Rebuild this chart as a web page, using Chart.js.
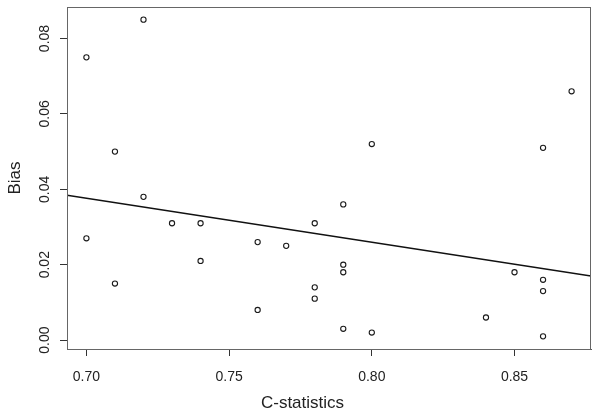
<!DOCTYPE html>
<html lang="en">
<head>
    <meta charset="UTF-8">
    <title>Bias vs C-statistics</title>
    <script src="https://cdn.jsdelivr.net/npm/chart.js"></script>
    <style>
        body {
            margin: 0;
            background: #fff;
        }

        #wrap {
            width: 601px;
            height: 416px;
        }
    </style>
</head>
<body>
<div id="wrap">
    <canvas id="biasChart" width="601" height="416"></canvas>
</div>

<script>
    // values
    const cStat = [0.70, 0.70, 0.71, 0.71, 0.72, 0.72, 0.73, 0.74, 0.74, 0.76, 0.76, 0.77, 0.78, 0.78,
        0.78, 0.79, 0.79, 0.79, 0.79, 0.80, 0.80, 0.84, 0.85, 0.86, 0.86, 0.86, 0.86, 0.87];
    const bias = [0.075, 0.027, 0.050, 0.015, 0.085, 0.038, 0.031, 0.031, 0.021, 0.026, 0.008, 0.025, 0.031, 0.014,
        0.011, 0.036, 0.020, 0.018, 0.003, 0.052, 0.002, 0.006, 0.018, 0.051, 0.016, 0.013, 0.001, 0.066];

    // fitted line, ends at the plot edges
    const fitX = [0.6932, 0.8768];
    const fitY = [0.0384, 0.0170];

    const xTicks = [0.70, 0.75, 0.80, 0.85];
    const yTicks = [0.00, 0.02, 0.04, 0.06, 0.08];

    const points = cStat.map((x, i) => ({x: x, y: bias[i]}));
    const fitLine = fitX.map((x, i) => ({x: x, y: fitY[i]}));

    // R style box round the plot region
    const boxPlugin = {
        id: 'box',
        afterDraw(chart) {
            const a = chart.chartArea;
            const ctx = chart.ctx;
            ctx.save();
            ctx.strokeStyle = '#666';
            ctx.lineWidth = 1;
            ctx.strokeRect(Math.round(a.left) + 0.5, Math.round(a.top) + 0.5,
                Math.round(a.right - a.left) - 1, Math.round(a.bottom - a.top));
            ctx.restore();
        }
    };

    const ctx = document.getElementById('biasChart').getContext('2d');
    new Chart(ctx, {
        type: 'scatter',
        data: {
            datasets: [
                {
                    data: points,
                    showLine: false,
                    pointStyle: 'circle',
                    pointRadius: 2.6,
                    pointBorderWidth: 1.1,
                    pointBorderColor: '#1a1a1a',
                    pointBackgroundColor: 'rgba(0,0,0,0)'
                },
                {
                    type: 'line',
                    data: fitLine,
                    borderColor: '#111',
                    borderWidth: 1.5,
                    pointRadius: 0,
                    fill: false
                }
            ]
        },
        options: {
            responsive: false,
            animation: false,
            layout: {padding: {left: 14, top: 7, right: 10, bottom: 0}},
            plugins: {
                legend: {display: false},
                tooltip: {enabled: false},
                title: {
                    display: true,
                    position: 'bottom',
                    text: 'C-statistics',
                    color: '#222',
                    font: {family: 'Liberation Sans, Arial, sans-serif', size: 17, weight: 'normal'},
                    padding: {top: 0, bottom: 2}
                }
            },
            scales: {
                x: {
                    type: 'linear',
                    min: 0.6932,
                    max: 0.8768,
                    afterBuildTicks: s => { s.ticks = xTicks.map(v => ({value: v})); },
                    afterFit: s => {
                        s.height = 44.6;
                        s.paddingLeft = 0;
                        s.paddingRight = 0;
                    },
                    grid: {display: true, drawOnChartArea: false, drawTicks: true, tickLength: 7, tickColor: '#333'},
                    border: {display: true, color: '#555'},
                    ticks: {
                        autoSkip: false,
                        maxRotation: 0,
                        padding: 13,
                        color: '#222',
                        font: {family: 'Liberation Sans, Arial, sans-serif', size: 14},
                        callback: v => v.toFixed(2)
                    }
                },
                y: {
                    type: 'linear',
                    min: -0.00236,
                    max: 0.08836,
                    afterBuildTicks: s => { s.ticks = yTicks.map(v => ({value: v})); },
                    afterFit: s => {
                        s.width = 53;
                        s.paddingTop = 0;
                        s.paddingBottom = 0;
                    },
                    grid: {display: true, drawOnChartArea: false, drawTicks: true, tickLength: 7, tickColor: '#333'},
                    border: {display: true, color: '#555'},
                    title: {
                        display: true,
                        text: 'Bias',
                        color: '#222',
                        font: {family: 'Liberation Sans, Arial, sans-serif', size: 17},
                        padding: {top: -9, bottom: 0}
                    },
                    ticks: {
                        autoSkip: false,
                        minRotation: 90,
                        maxRotation: 90,
                        crossAlign: 'center',
                        padding: 1,
                        color: '#222',
                        font: {family: 'Liberation Sans, Arial, sans-serif', size: 14},
                        callback: v => v.toFixed(2)
                    }
                }
            }
        },
        plugins: [boxPlugin]
    });
</script>
</body>
</html>
